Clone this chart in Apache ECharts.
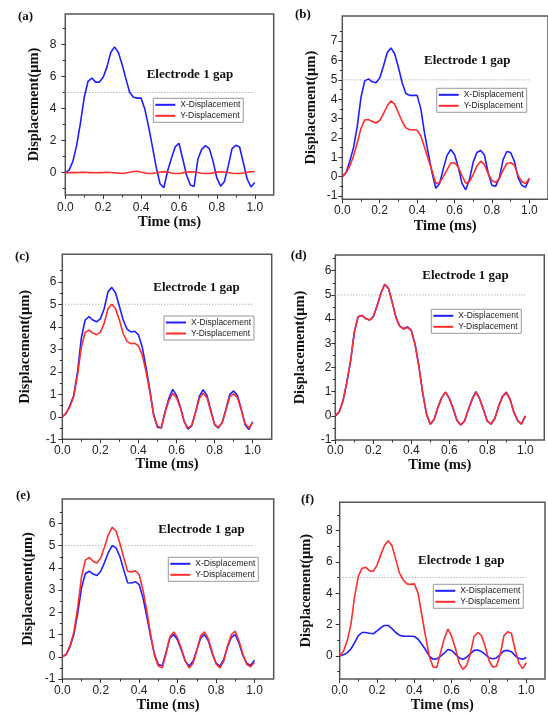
<!DOCTYPE html>
<html><head><meta charset="utf-8">
<script src="https://cdn.jsdelivr.net/npm/echarts@6/dist/echarts.min.js"></script>
<style>html,body{margin:0;padding:0;background:#fff}#c{width:548px;height:714px}</style>
</head><body><div id="c"></div>
<script>
// ---------- data ----------
const time = [0,0.02,0.04,0.06,0.08,0.10,0.12,0.14,0.16,0.18,0.20,0.22,0.24,0.26,0.28,0.30,0.32,0.34,0.36,0.38,0.40,0.42,0.44,0.46,0.48,0.50,0.52,0.54,0.56,0.58,0.60,0.62,0.64,0.66,0.68,0.70,0.72,0.74,0.76,0.78,0.80,0.82,0.84,0.86,0.88,0.90,0.92,0.94,0.96,0.98,1.00];
const refLevel = 5;
const seriesNames = ['X-Displacement','Y-Displacement'];
const panelLabels = ['(a)','(b)','(c)','(d)','(e)','(f)'];
const gapTitle = 'Electrode 1 gap';
const xAxisTitle = 'Time (ms)';
const yAxisTitle = 'Displacement(\u03bcm)';
const xTickLabels = [0,0.2,0.4,0.6,0.8,1.0];
const xMinorTicks = [0.1,0.3,0.5,0.7,0.9];
const yTicksEven = [0,2,4,6,8];
const yMinorOdd = [-1,1,3,5,7,9];
const yTicksB = [-1,0,1,2,3,4,5,6,7];
const yMinorB = [-0.5,0.5,1.5,2.5,3.5,4.5,5.5,6.5,7.5];
const yTicksSix = [-1,0,1,2,3,4,5,6];
const yMinorSix = [-0.5,0.5,1.5,2.5,3.5,4.5,5.5,6.5];

const xDispA = [0,0.15,0.7,1.7,3.1,4.7,5.7,5.9,5.65,5.65,5.95,6.6,7.5,7.85,7.5,6.75,5.85,5.0,4.7,4.65,4.65,3.95,2.85,1.6,0.33,-0.7,-0.95,0.1,0.9,1.6,1.83,0.85,-0.15,-0.78,-0.87,0.85,1.45,1.68,1.5,0.7,-0.35,-0.85,-0.55,0.4,1.5,1.7,1.6,0.6,-0.4,-0.9,-0.62];
const yDispA = [0,0,0,0,0.01,0.01,0,0,-0.01,0,0,0.01,0,-0.01,-0.03,-0.06,-0.03,0.02,0.07,0.08,0.04,-0.03,-0.06,-0.05,-0.01,0.04,0.06,0.04,-0.03,-0.06,-0.06,-0.02,0.03,0.05,0.04,0,-0.04,-0.06,-0.06,-0.02,0.03,0.05,0.04,0,-0.04,-0.06,-0.06,-0.03,0.02,0.05,0.06];
const xDispB = [0,0.2,0.8,1.5,2.6,4.1,4.95,5.05,4.9,4.85,5.1,5.7,6.4,6.65,6.35,5.65,4.85,4.3,4.2,4.2,4.2,3.5,2.23,1.2,0.2,-0.6,-0.35,0.4,1.1,1.4,1.15,0.5,-0.35,-0.68,-0.15,0.75,1.25,1.35,1.12,0.2,-0.45,-0.5,-0.05,0.88,1.3,1.25,0.8,-0.05,-0.45,-0.55,-0.1];
const yDispB = [0,0.2,0.55,1.05,1.75,2.5,2.93,2.95,2.85,2.77,2.9,3.25,3.65,3.92,3.75,3.3,2.85,2.52,2.42,2.42,2.4,2.1,1.5,0.9,0.3,-0.35,-0.3,0,0.35,0.7,0.72,0.5,0.05,-0.34,-0.25,0.1,0.55,0.8,0.62,0.15,-0.2,-0.3,-0.1,0.35,0.68,0.72,0.6,0.05,-0.25,-0.35,-0.1];
const xDispC = [0,0.15,0.5,0.95,2.0,3.5,4.3,4.45,4.3,4.22,4.35,4.8,5.55,5.75,5.5,4.9,4.3,3.9,3.77,3.8,3.65,3.1,2.2,1.2,0.1,-0.46,-0.5,0.23,0.82,1.22,0.95,0.45,-0.2,-0.55,-0.4,0.2,0.92,1.2,0.95,0.3,-0.35,-0.5,-0.25,0.35,1.0,1.15,0.95,0.35,-0.35,-0.56,-0.22];
const yDispC = [0,0.15,0.45,0.9,1.85,3.1,3.75,3.85,3.72,3.65,3.75,4.15,4.8,5.0,4.8,4.3,3.7,3.35,3.25,3.27,3.15,2.75,2.0,1.1,0.05,-0.42,-0.48,0.2,0.72,1.05,0.85,0.4,-0.2,-0.5,-0.38,0.2,0.82,1.05,0.85,0.25,-0.32,-0.48,-0.25,0.3,0.9,1.02,0.85,0.3,-0.3,-0.5,-0.25];
const xDispD = [0,0.15,0.6,1.35,2.25,3.45,4.1,4.15,4.02,3.96,4.1,4.55,5.07,5.44,5.27,4.68,4.05,3.7,3.6,3.68,3.53,2.95,2.05,0.95,0.07,-0.35,-0.15,0.35,0.75,0.98,0.72,0.3,-0.18,-0.38,-0.22,0.25,0.68,1.0,0.7,0.25,-0.22,-0.34,-0.1,0.4,0.8,0.98,0.68,0.15,-0.2,-0.34,0];
const yDispD = [0,0.15,0.6,1.35,2.25,3.45,4.1,4.15,4.02,3.96,4.1,4.55,5.07,5.44,5.27,4.68,4.05,3.7,3.59,3.66,3.52,2.95,2.05,0.95,0.07,-0.35,-0.15,0.35,0.75,0.98,0.72,0.3,-0.18,-0.38,-0.22,0.25,0.68,0.98,0.7,0.25,-0.22,-0.34,-0.1,0.4,0.8,0.96,0.68,0.15,-0.2,-0.34,0];
const xDispE = [0,0.1,0.45,1.0,1.95,3.1,3.75,3.85,3.72,3.66,3.85,4.25,4.7,5.0,4.9,4.5,3.9,3.33,3.32,3.38,3.25,2.65,1.8,0.9,0.1,-0.35,-0.4,0.2,0.85,1.0,0.75,0.3,-0.2,-0.42,-0.2,0.3,0.85,1.0,0.72,0.15,-0.28,-0.42,-0.12,0.45,0.88,1.0,0.6,0.05,-0.3,-0.38,-0.15];
const yDispE = [0,0.1,0.5,1.1,2.2,3.6,4.35,4.47,4.3,4.22,4.45,4.95,5.5,5.83,5.65,5.1,4.45,3.85,3.82,3.87,3.7,3.0,2.05,1.0,0.05,-0.42,-0.5,0.15,0.9,1.12,0.85,0.35,-0.2,-0.5,-0.3,0.3,0.95,1.12,0.8,0.2,-0.32,-0.5,-0.2,0.5,1.0,1.15,0.7,0.1,-0.35,-0.45,-0.25];
const xDispF = [0,0.08,0.2,0.45,0.85,1.3,1.5,1.5,1.45,1.42,1.6,1.8,1.95,1.95,1.75,1.5,1.33,1.27,1.26,1.26,1.25,1.07,0.75,0.4,0,-0.2,-0.18,-0.02,0.18,0.42,0.35,0.12,-0.12,-0.21,-0.08,0.15,0.36,0.38,0.28,0.1,-0.12,-0.17,-0.12,0.1,0.33,0.36,0.28,0.02,-0.15,-0.2,-0.1];
const yDispF = [0,0.3,0.95,2.0,3.8,5.1,5.6,5.65,5.43,5.4,5.8,6.45,7.05,7.35,7.05,6.18,5.3,4.85,4.6,4.57,4.6,4.0,2.6,1.25,0,-0.7,-0.73,0.2,1.1,1.72,1.25,0.5,-0.45,-0.85,-0.6,0.15,1.25,1.5,1.3,0.6,-0.3,-0.7,-0.65,0.1,1.3,1.55,1.45,0.4,-0.45,-0.8,-0.42];

// ---------- layout ----------
const panels = [
 {label:panelLabels[0], xs:xDispA, ys:yDispA, yMin:-1.4, yMax:9.9, yT:yTicksEven, yM:yMinorOdd,
  g:{left:65.3,top:14,width:208.4,height:181}, yGap:24, xGap:19, yLm:9, xLm:7, lg:[153.3,98.3], tt:[146.7,75], pl:[18,16.7]},
 {label:panelLabels[1], xs:xDispB, ys:yDispB, yMin:-1.17, yMax:8.3, yT:yTicksB, yM:yMinorB,
  g:{left:342.3,top:16,width:207.2,height:183.3}, yGap:24, xGap:19, yLm:5, xLm:5, lg:[436.7,88.3], tt:[424,61], pl:[295,15]},
 {label:panelLabels[2], xs:xDispC, ys:yDispC, yMin:-1, yMax:7.22, yT:yTicksSix, yM:yMinorSix,
  g:{left:62.3,top:254.3,width:209.4,height:185}, yGap:30, xGap:17, yLm:6, xLm:5, lg:[164,316], tt:[153.3,287.7], pl:[15,256.7]},
 {label:panelLabels[3], xs:xDispD, ys:yDispD, yMin:-1, yMax:6.65, yT:yTicksSix, yM:yMinorSix,
  g:{left:335.3,top:255,width:209,height:185}, yGap:28, xGap:18, yLm:4, xLm:5, lg:[431.3,309.3], tt:[422.3,275.7], pl:[290.7,255.7]},
 {label:panelLabels[4], xs:xDispE, ys:yDispE, yMin:-1, yMax:7.1, yT:yTicksSix, yM:yMinorSix,
  g:{left:62.3,top:499,width:211.4,height:183.3}, yGap:27, xGap:19, yLm:7, xLm:6, lg:[168.3,557.3], tt:[158.3,530], pl:[16,496]},
 {label:panelLabels[5], xs:xDispF, ys:yDispF, yMin:-1.47, yMax:9.8, yT:yTicksEven, yM:yMinorOdd,
  g:{left:339.7,top:502.3,width:205.3,height:179.4}, yGap:26, xGap:18, yLm:7, xLm:6, lg:[433.3,584.3], tt:[418,560.7], pl:[301,500]}
];

const BLUE = '#1f1fff', RED = '#ff2d2d';
const tickFont = {fontFamily:'Liberation Sans, Arial, sans-serif', fontSize:12, color:'#222'};
const titleFont = {fontFamily:'Liberation Serif, Times New Roman, serif', fontWeight:'bold', color:'#111'};

const grid = [], xAxis = [], yAxis = [], series = [], legend = [], graphic = [];
panels.forEach((p, i) => {
  grid.push(Object.assign({show:true, borderColor:'#555', borderWidth:1.5, backgroundColor:'rgba(0,0,0,0)'}, p.g));
  // major x
  xAxis.push({type:'value', gridIndex:i, min:0, max:1.1, position:'bottom',
    axisLine:{show:false, onZero:false}, splitLine:{show:false},
    axisTick:{show:true, customValues:xTickLabels, length:4, lineStyle:{color:'#333', width:1}},
    axisLabel:Object.assign({customValues:xTickLabels, formatter:v=>v.toFixed(1), margin:p.xLm}, tickFont),
    name:xAxisTitle, nameLocation:'middle', nameGap:p.xGap,
    nameTextStyle:Object.assign({fontSize:14.5}, titleFont)});
  // minor x
  xAxis.push({type:'value', gridIndex:i, min:0, max:1.1, position:'bottom',
    axisLine:{show:false, onZero:false}, splitLine:{show:false}, axisLabel:{show:false},
    axisTick:{show:true, customValues:xMinorTicks, length:2.5, lineStyle:{color:'#333', width:1}}});
  // major y
  yAxis.push({type:'value', gridIndex:i, min:p.yMin, max:p.yMax, position:'left',
    axisLine:{show:false, onZero:false}, splitLine:{show:false},
    axisTick:{show:true, customValues:p.yT, length:4, lineStyle:{color:'#333', width:1}},
    axisLabel:Object.assign({customValues:p.yT, margin:p.yLm}, tickFont),
    name:yAxisTitle, nameLocation:'middle', nameGap:p.yGap,
    nameTextStyle:Object.assign({fontSize:14.5}, titleFont)});
  // minor y
  yAxis.push({type:'value', gridIndex:i, min:p.yMin, max:p.yMax, position:'left',
    axisLine:{show:false, onZero:false}, splitLine:{show:false}, axisLabel:{show:false},
    axisTick:{show:true, customValues:p.yM, length:2.5, lineStyle:{color:'#333', width:1}}});

  const xi = 2*i, yi = 2*i;
  series.push({type:'line', xAxisIndex:xi, yAxisIndex:yi, silent:true, symbol:'none',
    lineStyle:{color:'#9a9a9a', width:1, type:[1,2]},
    data:[[0, refLevel],[xTickLabels[xTickLabels.length-1], refLevel]], z:1});
  series.push({type:'line', name:seriesNames[0], xAxisIndex:xi, yAxisIndex:yi, symbol:'none',
    color:BLUE, lineStyle:{color:BLUE, width:1.6},
    data:time.map((t,k)=>[t, p.xs[k]]), z:2});
  series.push({type:'line', name:seriesNames[1], xAxisIndex:xi, yAxisIndex:yi, symbol:'none',
    color:RED, lineStyle:{color:RED, width:1.6},
    data:time.map((t,k)=>[t, p.ys[k]]), z:3});

  legend.push({data:seriesNames, left:p.lg[0], top:p.lg[1], orient:'vertical',
    icon:'rect', itemWidth:20, itemHeight:2, itemGap:0,
    padding:[1,3,1,2], borderColor:'#999', borderWidth:1, backgroundColor:'#fff',
    selectedMode:false,
    textStyle:{fontFamily:'Liberation Sans, Arial, sans-serif', fontSize:8.5, color:'#222', lineHeight:11}});

  graphic.push({type:'text', x:p.tt[0], y:p.tt[1], z:10,
    style:{text:gapTitle, font:'bold 13px "Liberation Serif", serif', fill:'#111', align:'left', verticalAlign:'middle'}});
  graphic.push({type:'text', x:p.pl[0], y:p.pl[1], z:10,
    style:{text:p.label, font:'bold 13px "Liberation Serif", serif', fill:'#111', align:'left', verticalAlign:'middle'}});
});

const chart = echarts.init(document.getElementById('c'), null, {renderer:'canvas'});
chart.setOption({backgroundColor:'#fff', animation:false, grid, xAxis, yAxis, series, legend, graphic});
</script></body></html>
